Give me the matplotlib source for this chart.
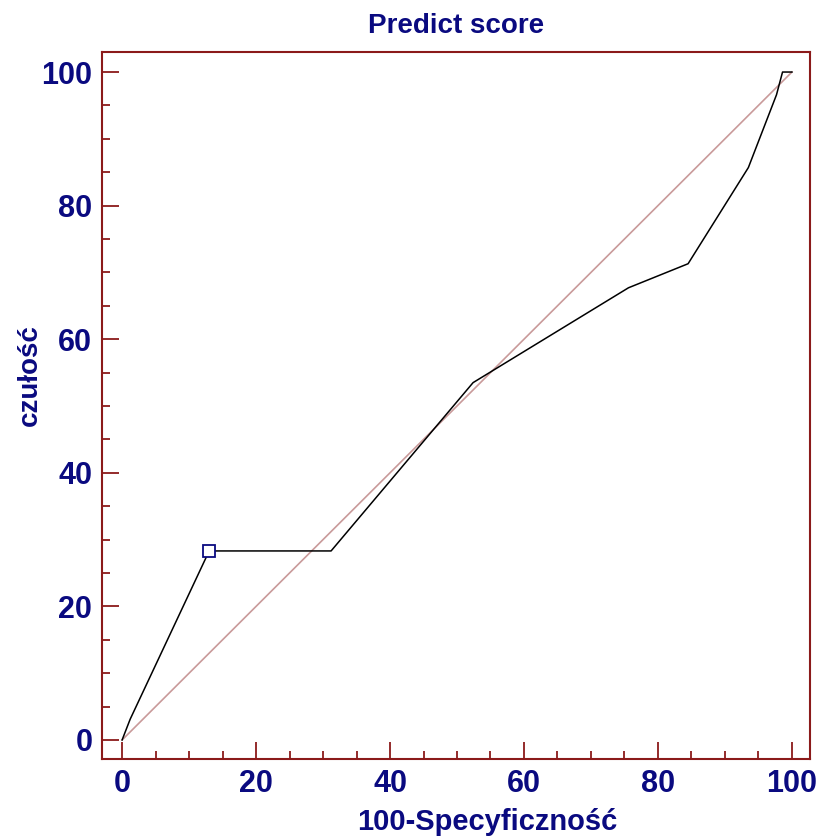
import matplotlib
matplotlib.use("Agg")
import matplotlib.pyplot as plt
from matplotlib.ticker import MultipleLocator

# ROC curve points (100-specificity, sensitivity)
fpr = [0.0, 1.2, 13.0, 31.2, 52.4, 75.6, 84.5, 93.5, 97.7, 98.6, 100.0]
tpr = [0.0, 3.1, 28.3, 28.3, 53.5, 67.7, 71.3, 85.7, 96.6, 100.0, 100.0]

# optimal criterion point
best_x = [13.0]
best_y = [28.3]

diag = [0, 100]

title = "Predict score"
xlabel = "100-Specyficzność"
ylabel = "czułość"

navy = "#0a0a80"
frame = "#8b1a1a"

plt.rcParams['font.family'] = ['Liberation Sans', 'DejaVu Sans']

fig = plt.figure(figsize=(8.2, 8.36), dpi=100)
ax = fig.add_axes([0.1244, 0.0921, 0.8634, 0.8457])

ax.plot(diag, diag, color="#c99a9a", lw=1.2, zorder=2)
ax.plot(fpr, tpr, color="black", lw=1.1, zorder=3)
ax.plot(best_x, best_y, 's', ms=8.6, mfc='white', mec=navy, mew=1.3, zorder=4)

ax.set_xlim(-3.0, 102.7)
ax.set_ylim(-2.85, 103.0)

ax.xaxis.set_major_locator(MultipleLocator(20))
ax.xaxis.set_minor_locator(MultipleLocator(5))
ax.yaxis.set_major_locator(MultipleLocator(20))
ax.yaxis.set_minor_locator(MultipleLocator(5))

ax.tick_params(which='both', direction='in', color=frame, width=1.3,
               top=False, right=False)
ax.tick_params(which='major', length=12, pad=7, labelsize=22,
               labelcolor=navy)
ax.tick_params(which='minor', length=6)
for lab in ax.get_xticklabels() + ax.get_yticklabels():
    lab.set_fontweight('bold')

for s in ax.spines.values():
    s.set_color(frame)
    s.set_linewidth(1.5)

ax.set_title(title, color=navy, fontsize=20, fontweight='bold', pad=14)
ax.set_xlabel(xlabel, color=navy, fontsize=21, fontweight='bold')
ax.set_ylabel(ylabel, color=navy, fontsize=20, fontweight='bold')
ax.xaxis.set_label_coords(0.544, -0.089, transform=ax.transAxes)
ax.yaxis.set_label_coords(-0.102, 0.543, transform=ax.transAxes)
ax.xaxis.label.set_va('center')
ax.yaxis.label.set_va('center')

fig.savefig("out.png", dpi=100)
